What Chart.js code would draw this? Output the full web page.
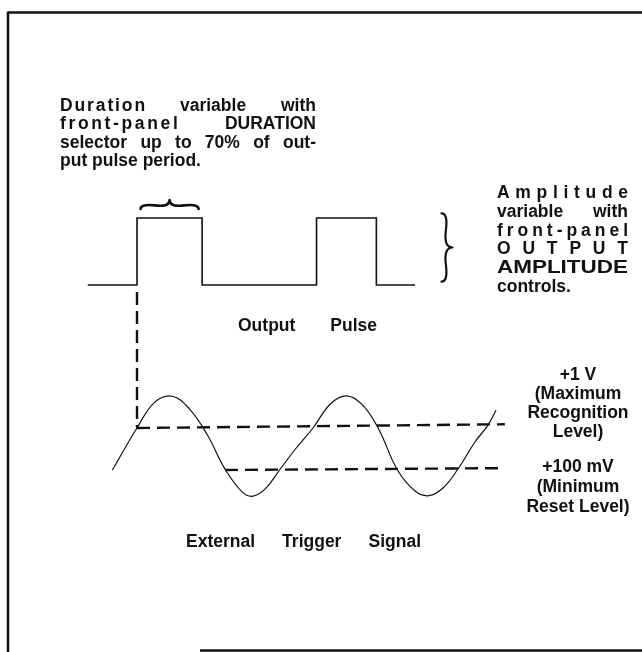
<!DOCTYPE html>
<html lang="en">
  <head>
    <meta charset="utf-8" />
    <style>
      * {
        margin: 0;
        padding: 0;
      }
      body {
        background: #fff;
      }
      .chartBox {
        width: 642px;
        height: 652px;
      }
    </style>
  </head>
  <body>
    <div class="chartBox">
      <canvas id="myChart" width="642" height="652"></canvas>
    </div>
    <script src="https://cdn.jsdelivr.net/npm/chart.js/dist/chart.umd.min.js"></script>
    <script>
      // time runs in units where one trigger period = 10

      // output pulse (0 = low, 1 = high), step changes
      const pulseTimes = [-2.8, 0, 3.7, 10.2, 13.6, 15.8];
      const pulseLevels = [0, 1, 0, 1, 0, 0];

      // external trigger signal, volts
      const triggerTimes = [-1.4, 0, 1.0, 2.0, 3.0, 4.0, 5.0, 6.0, 6.6, 7.3, 8.1, 9.0,
        10.0, 11.0, 11.9, 12.8, 13.7, 14.8, 15.8, 16.6, 17.4, 18.2, 19.2, 19.9, 20.4];
      const triggerVolts = [0.1, 1.0, 1.55, 1.68, 1.4, 0.85, 0.12, -0.38, -0.46, -0.3, 0.1, 0.55,
        1.0, 1.52, 1.69, 1.5, 1.0, 0.1, -0.35, -0.45, -0.28, 0.1, 0.7, 1.04, 1.38];

      // threshold levels
      const recognitionTimes = [0, 20.9];
      const recognitionVolts = [1.0, 1.08];
      const resetTimes = [5.0, 20.9];
      const resetVolts = [0.1, 0.14];

      // notes ( * = letter-spaced word, = at start = stretched line )
      const durationNote = ["*Duration variable with", "*front-panel DURATION", "selector up to 70% of out-", "put pulse period."];
      const amplitudeNote = ["*Amplitude", "variable with", "*front-panel", "*OUTPUT", "=AMPLITUDE", "controls."];
      const recognitionLabel = ["+1 V", "(Maximum", "Recognition", "Level)"];
      const resetLabel = ["+100 mV", "(Minimum", "Reset Level)"];
      const pulseTitle = "Output Pulse";
      const triggerTitle = "External Trigger Signal";

      const W = 642, H = 652;
      const FONT = "bold 17.5px 'Liberation Sans', Arial, sans-serif";

      // scale ranges so that the hidden axes fill the canvas
      function hRange(v1, p1, v2, p2, size) {
        const s = (p2 - p1) / (v2 - v1);
        const min = v1 - p1 / s;
        return { min, max: min + size / s };
      }
      function vRange(v1, p1, v2, p2, size) {
        const s = (p1 - p2) / (v2 - v1);
        const max = v1 + p1 / s;
        return { min: max - size / s, max };
      }
      const xr = hRange(0, 137, 10, 313, W);
      const pr = vRange(0, 285, 1, 218, H);
      const tr = vRange(1, 428, 0.1, 470, H);

      const toPoints = (xs, ys) => xs.map((x, i) => ({ x, y: ys[i] }));

      function curlyBrace(ctx, x1, y1, x2, y2, w, q = 0.6) {
        let dx = x1 - x2, dy = y1 - y2;
        const len = Math.hypot(dx, dy);
        dx /= len;
        dy /= len;
        const qx1 = x1 + q * w * dy, qy1 = y1 - q * w * dx;
        const qx2 = x1 - 0.25 * len * dx + (1 - q) * w * dy, qy2 = y1 - 0.25 * len * dy - (1 - q) * w * dx;
        const tx = x1 - 0.5 * len * dx + w * dy, ty = y1 - 0.5 * len * dy - w * dx;
        const qx3 = x2 + q * w * dy, qy3 = y2 - q * w * dx;
        const qx4 = x1 - 0.75 * len * dx + (1 - q) * w * dy, qy4 = y1 - 0.75 * len * dy - (1 - q) * w * dx;
        ctx.beginPath();
        ctx.moveTo(x1, y1);
        ctx.quadraticCurveTo(qx1, qy1, qx2, qy2);
        ctx.quadraticCurveTo(2 * qx2 - qx1, 2 * qy2 - qy1, tx, ty);
        ctx.moveTo(x2, y2);
        ctx.quadraticCurveTo(qx3, qy3, qx4, qy4);
        ctx.quadraticCurveTo(2 * qx4 - qx3, 2 * qy4 - qy3, tx, ty);
        ctx.stroke();
      }

      // justified line, extra room goes to word gaps and letter-spaced words
      function justify(ctx, text, left, right, y, gapWeight = 8) {
        if (text[0] === "=") {
          const word = text.slice(1);
          const sx = (right - left) / ctx.measureText(word).width;
          ctx.save();
          ctx.translate(left, y);
          ctx.scale(sx, 1);
          ctx.fillText(word, 0, 0);
          ctx.restore();
          return;
        }
        const words = text.split(" ");
        const clean = words.map((w) => w.replace(/^\*/, ""));
        const space = ctx.measureText(" ").width;
        let natural = space * (words.length - 1);
        let letterGaps = 0;
        clean.forEach((w, i) => {
          natural += ctx.measureText(w).width;
          if (words[i][0] === "*") letterGaps += w.length - 1;
        });
        const units = letterGaps + (words.length - 1) * gapWeight;
        const unit = units ? (right - left - natural) / units : 0;
        let cx = left;
        clean.forEach((w, i) => {
          if (words[i][0] === "*") {
            for (const ch of w) {
              ctx.fillText(ch, cx, y);
              cx += ctx.measureText(ch).width + unit;
            }
            cx -= unit;
          } else {
            ctx.fillText(w, cx, y);
            cx += ctx.measureText(w).width;
          }
          cx += space + unit * gapWeight;
        });
      }

      const diagram = {
        id: "diagram",
        beforeDraw(chart) {
          const ctx = chart.ctx;
          ctx.save();
          ctx.fillStyle = "#fff";
          ctx.fillRect(0, 0, chart.width, chart.height);
          ctx.restore();
        },
        afterDatasetsDraw(chart) {
          const { ctx, scales: { x, yp, yt } } = chart;
          ctx.save();
          ctx.strokeStyle = "#111";
          ctx.fillStyle = "#111";

          // trigger point marker
          const tx = x.getPixelForValue(0);
          ctx.lineWidth = 2.4;
          ctx.setLineDash([13, 6]);
          ctx.beginPath();
          ctx.moveTo(tx, yp.getPixelForValue(0) + 7);
          ctx.lineTo(tx, yt.getPixelForValue(recognitionVolts[0]));
          ctx.stroke();
          ctx.setLineDash([]);

          // duration brace and amplitude brace
          ctx.lineWidth = 2.6;
          ctx.lineCap = "round";
          const top = yp.getPixelForValue(1);
          curlyBrace(ctx, x.getPixelForValue(3.5), top - 9, x.getPixelForValue(0.2), top - 9, 9);
          ctx.lineWidth = 2.2;
          curlyBrace(ctx, x.getPixelForValue(17.3), yp.getPixelForValue(0.05), x.getPixelForValue(17.3), yp.getPixelForValue(1.07), 11);
          ctx.lineCap = "butt";

          // frame
          ctx.lineWidth = 2.5;
          ctx.beginPath();
          ctx.moveTo(8, 12.5);
          ctx.lineTo(W, 12.5);
          ctx.moveTo(8, 11.5);
          ctx.lineTo(8, H);
          ctx.moveTo(200, 650.5);
          ctx.lineTo(W, 650.5);
          ctx.stroke();

          // texts
          ctx.font = FONT;
          ctx.textBaseline = "alphabetic";
          ctx.textAlign = "left";
          durationNote.forEach((line, i) => {
            const y = 111 + i * 18.4;
            if (i < durationNote.length - 1) justify(ctx, line, 60, 316, y, 16);
            else ctx.fillText(line, 60, y);
          });
          amplitudeNote.forEach((line, i) => {
            const y = 198 + i * 18.8;
            if (i < amplitudeNote.length - 1) justify(ctx, line, 497, 628, y);
            else ctx.fillText(line, 497, y);
          });
          justify(ctx, pulseTitle, 238, 377, 331);
          justify(ctx, triggerTitle, 186, 421, 547);

          ctx.textAlign = "center";
          const recTop = yt.getPixelForValue(recognitionVolts[0]) - 48;
          recognitionLabel.forEach((line, i) => ctx.fillText(line, 578, recTop + i * 19));
          const resTop = yt.getPixelForValue(resetVolts[0]) + 2;
          resetLabel.forEach((line, i) => ctx.fillText(line, 578, resTop + i * 20));
          ctx.restore();
        },
      };

      const data = {
        datasets: [
          {
            label: "Output Pulse",
            data: toPoints(pulseTimes, pulseLevels),
            yAxisID: "yp",
            stepped: true,
            borderColor: "#111",
            borderWidth: 1.6,
          },
          {
            label: "External Trigger Signal",
            data: toPoints(triggerTimes, triggerVolts),
            yAxisID: "yt",
            tension: 0.4,
            borderColor: "#111",
            borderWidth: 1.2,
          },
          {
            label: "Maximum Recognition Level",
            data: toPoints(recognitionTimes, recognitionVolts),
            yAxisID: "yt",
            borderColor: "#111",
            borderWidth: 2.4,
            borderDash: [13, 7],
          },
          {
            label: "Minimum Reset Level",
            data: toPoints(resetTimes, resetVolts),
            yAxisID: "yt",
            borderColor: "#111",
            borderWidth: 2.4,
            borderDash: [13, 7],
          },
        ],
      };

      const config = {
        type: "scatter",
        data,
        options: {
          responsive: false,
          animation: false,
          devicePixelRatio: 1,
          events: [],
          layout: { padding: 0 },
          showLine: true,
          elements: { point: { radius: 0 } },
          plugins: { legend: { display: false }, tooltip: { enabled: false } },
          scales: {
            x: { type: "linear", display: false, min: xr.min, max: xr.max },
            yp: { type: "linear", display: false, min: pr.min, max: pr.max },
            yt: { type: "linear", display: false, min: tr.min, max: tr.max },
          },
        },
        plugins: [diagram],
      };

      const myChart = new Chart(document.getElementById("myChart"), config);
    </script>
  </body>
</html>
